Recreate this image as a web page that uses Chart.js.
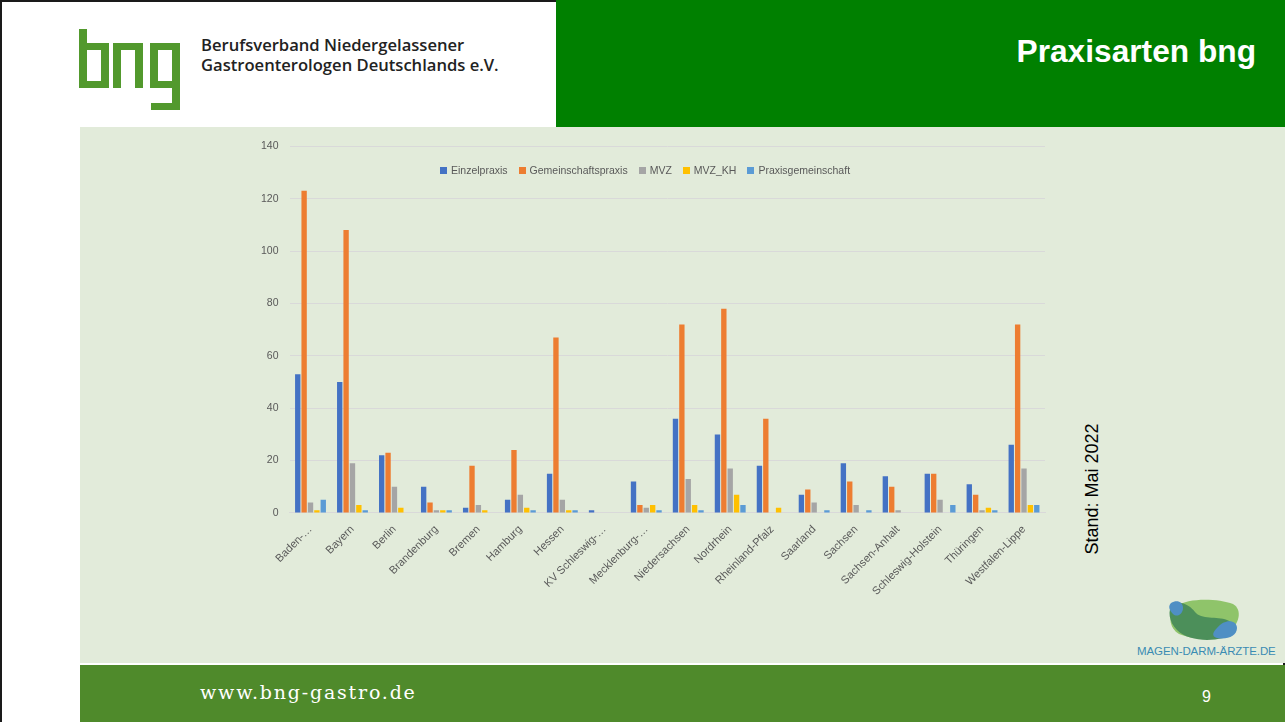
<!DOCTYPE html>
<html lang="de">
<head>
<meta charset="utf-8">
<title>Praxisarten bng</title>
<script src="https://cdn.jsdelivr.net/npm/chart.js@4.4.1/dist/chart.umd.min.js"></script>
<style>
  html, body { margin: 0; padding: 0; }
  body { width: 1285px; height: 722px; position: relative; overflow: hidden; background: #fff; font-family: "Liberation Sans", Arial, sans-serif; }
  .frame { position: absolute; background: #1a1a1a; }
  #head-green { position: absolute; left: 556px; top: 0; width: 729px; height: 127px; background: #008000; }
  #title { position: absolute; right: 29px; top: 33px; color: #fff; font-weight: bold; font-size: 31.7px; }
  #org { position: absolute; left: 201px; top: 35px; font-family: "Open Sans", sans-serif; font-weight: 600; font-size: 16.6px; line-height: 20px; color: #222; }
  #panel { position: absolute; left: 80px; top: 127px; width: 1205px; height: 536px; background: #e2ebda; }
  #footer { position: absolute; left: 80px; top: 665px; width: 1205px; height: 57px; background: #4f8a2b; }
  #url { position: absolute; left: 120px; top: 16px; color: #fff; font-family: "DejaVu Serif", serif; font-size: 19px; letter-spacing: 1.8px; }
  #page { position: absolute; left: 1122px; top: 23px; color: #fff; font-size: 16px; }
  #chartBox { position: absolute; left: 250px; top: 129px; width: 805px; height: 471px; }
  #legend { position: absolute; left: 440px; top: 164px; display: flex; gap: 11px; font-size: 10.5px; color: #595959; font-family: "Liberation Sans", sans-serif; }
  #legend span.item { display: flex; align-items: center; }
  #legend i { display: inline-block; width: 7px; height: 7px; margin-right: 4px; }
  #stand { position: absolute; left: 1092px; top: 489px; transform: translate(-50%, -50%) rotate(-90deg); font-size: 18px; color: #000; white-space: nowrap; }
  #mda { position: absolute; left: 1137px; top: 645px; font-size: 11.5px; color: #3b8cb3; letter-spacing: -0.1px; }
</style>
</head>
<body>
<div class="frame" style="left:0;top:0;width:1285px;height:2px"></div>
<div class="frame" style="left:0;top:0;width:2px;height:722px"></div>
<div class="frame" style="left:1283px;top:0;width:2px;height:722px"></div>

<svg style="position:absolute;left:0;top:0" width="200" height="120">
  <g fill="#52992d">
    <!-- b -->
    <rect x="79" y="29" width="8" height="59"/>
    <rect x="79" y="43" width="30" height="7"/>
    <rect x="101" y="43" width="8" height="45"/>
    <rect x="79" y="81" width="30" height="7"/>
    <!-- n -->
    <rect x="113" y="43" width="8" height="45"/>
    <rect x="113" y="43" width="30" height="7"/>
    <rect x="135" y="43" width="8" height="45"/>
    <!-- g -->
    <rect x="150" y="43" width="8" height="45"/>
    <rect x="150" y="43" width="30" height="7"/>
    <rect x="172" y="43" width="8" height="67"/>
    <rect x="150" y="81" width="30" height="7"/>
    <rect x="151" y="103" width="29" height="7"/>
  </g>
</svg>
<div id="org">Berufsverband Niedergelassener<br>Gastroenterologen Deutschlands e.V.</div>
<div id="head-green"></div>
<div id="title">Praxisarten bng</div>

<div id="panel"></div>
<div id="chartBox"><canvas id="chart" width="805" height="471"></canvas></div>
<div id="legend"></div>
<div id="stand">Stand: Mai 2022</div>

<svg style="position:absolute;left:1165px;top:598px" width="80" height="45">
  <path d="M12 8 C22 0 52 0 68 6 C78 12 74 26 64 34 C50 42 28 42 14 36 C4 30 2 16 12 8 Z" fill="#8fc46a"/>
  <path d="M8 6 C16 2 26 8 30 14 C36 22 52 18 62 22 C72 26 70 36 58 40 C42 44 22 42 12 32 C4 24 2 12 8 6 Z" fill="#4c8f5a"/>
  <path d="M6 5 C12 1 18 4 18 10 C18 16 12 20 8 16 C4 12 3 8 6 5 Z" fill="#4f8fc4"/>
  <path d="M52 30 C60 20 72 22 72 30 C72 38 62 42 52 40 C46 38 48 34 52 30 Z" fill="#4f8fc4"/>
</svg>
<div id="mda">MAGEN-DARM-ÄRZTE.DE</div>

<div id="footer">
  <div id="url">www.bng-gastro.de</div>
  <div id="page">9</div>
</div>

<script>
const laender = [
  'Baden-…', 'Bayern', 'Berlin', 'Brandenburg', 'Bremen', 'Hamburg', 'Hessen',
  'KV Schleswig-…', 'Mecklenburg-…', 'Niedersachsen', 'Nordrhein', 'Rheinland-Pfalz',
  'Saarland', 'Sachsen', 'Sachsen-Anhalt', 'Schleswig-Holstein', 'Thüringen', 'Westfalen-Lippe'
];
const seriesNames = ['Einzelpraxis', 'Gemeinschaftspraxis', 'MVZ', 'MVZ_KH', 'Praxisgemeinschaft'];
const seriesColors = ['#4472c4', '#ed7d31', '#a5a5a5', '#ffc000', '#5b9bd5'];

const einzelpraxis        = [53, 50, 22, 10, 2, 5, 15, 1, 12, 36, 30, 18, 7, 19, 14, 15, 11, 26];
const gemeinschaftspraxis = [123, 108, 23, 4, 18, 24, 67, 0, 3, 72, 78, 36, 9, 12, 10, 15, 7, 72];
const mvz                 = [4, 19, 10, 1, 3, 7, 5, 0, 2, 13, 17, 0, 4, 3, 1, 5, 1, 17];
const mvzKh               = [1, 3, 2, 1, 1, 2, 1, 0, 3, 3, 7, 2, 0, 0, 0, 0, 2, 3];
const praxisgemeinschaft  = [5, 1, 0, 1, 0, 1, 1, 0, 1, 1, 3, 0, 1, 1, 0, 3, 1, 3];
const yTicks = [0, 20, 40, 60, 80, 100, 120, 140];

const values = [einzelpraxis, gemeinschaftspraxis, mvz, mvzKh, praxisgemeinschaft];

// legend sits inside the plot, so it's plain html
const legendEl = document.getElementById('legend');
seriesNames.forEach((name, i) => {
  const item = document.createElement('span');
  item.className = 'item';
  item.innerHTML = `<i style="background:${seriesColors[i]}"></i>${name}`;
  legendEl.appendChild(item);
});

new Chart(document.getElementById('chart'), {
  type: 'bar',
  data: {
    labels: laender,
    datasets: seriesNames.map((name, i) => ({
      label: name,
      data: values[i],
      backgroundColor: seriesColors[i],
      categoryPercentage: 0.76,
      barPercentage: 0.84
    }))
  },
  options: {
    responsive: false,
    animation: false,
    layout: { padding: { top: 4, right: 10, left: 0, bottom: 0 } },
    plugins: { legend: { display: false }, tooltip: { enabled: false } },
    scales: {
      x: {
        grid: { display: false },
        border: { color: '#d9d9d9' },
        ticks: {
          color: '#595959',
          font: { family: 'Liberation Sans', size: 11 },
          maxRotation: 45, minRotation: 45, autoSkip: false, padding: 2
        }
      },
      y: {
        min: 0, max: 140,
        afterBuildTicks: axis => { axis.ticks = yTicks.map(v => ({ value: v })); },
        grid: { color: '#d9d9d9', drawTicks: false },
        border: { display: false },
        ticks: { color: '#595959', font: { family: 'Liberation Sans', size: 10.5 }, padding: 11 }
      }
    }
  }
});
</script>
</body>
</html>
